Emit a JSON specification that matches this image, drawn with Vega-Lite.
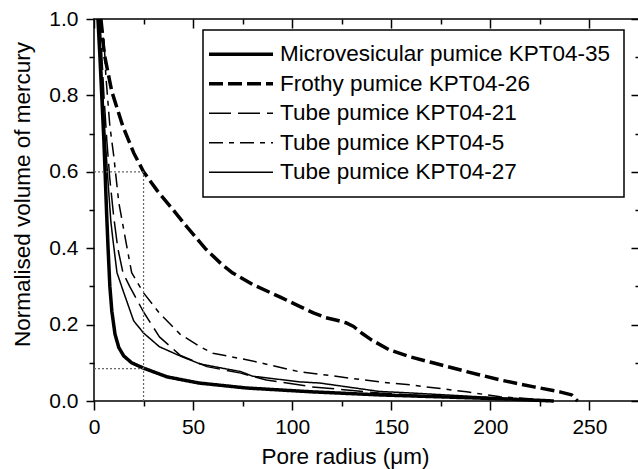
{
  "$schema": "https://vega.github.io/schema/vega-lite/v6.json",
  "width": 545,
  "height": 382,
  "autosize": {"type": "none"},
  "padding": {"left": 94, "top": 19, "right": 0, "bottom": 68},
  "background": "white",
  "config": {
    "view": {"stroke": "black", "strokeWidth": 1.5},
    "font": "Liberation Sans",
    "axis": {
      "labelFont": "Liberation Sans", "labelFontSize": 21, "labelColor": "black",
      "titleFont": "Liberation Sans", "titleFontSize": 22.5, "titleFontWeight": "normal", "titleColor": "black",
      "domain": false, "grid": false, "tickColor": "black", "tickWidth": 1.5,
      "labelFlush": false, "labelOverlap": false
    },
    "legend": {
      "orient": "none", "legendX": 109, "legendY": 11,
      "padding": 13, "rowPadding": 6.5,
      "strokeColor": "black", "fillColor": "white", "strokeWidth": 1.5,
      "symbolType": "M -4.5625 0 H 11.4375", "symbolSize": 64,
      "symbolStrokeColor": "black", "symbolFillColor": "transparent",
      "labelFont": "Liberation Sans", "labelFontSize": 22.5, "labelColor": "black",
      "labelOffset": 41.5, "labelLimit": 0
    }
  },
  "datasets": {
    "curves": [
      {"s": "Microvesicular pumice KPT04-35", "x": 2, "y": 1.0},
      {"s": "Microvesicular pumice KPT04-35", "x": 3, "y": 0.9},
      {"s": "Microvesicular pumice KPT04-35", "x": 4, "y": 0.79},
      {"s": "Microvesicular pumice KPT04-35", "x": 5, "y": 0.68},
      {"s": "Microvesicular pumice KPT04-35", "x": 5.6, "y": 0.6},
      {"s": "Microvesicular pumice KPT04-35", "x": 6.3, "y": 0.5},
      {"s": "Microvesicular pumice KPT04-35", "x": 7.1, "y": 0.4},
      {"s": "Microvesicular pumice KPT04-35", "x": 8, "y": 0.3},
      {"s": "Microvesicular pumice KPT04-35", "x": 9, "y": 0.235},
      {"s": "Microvesicular pumice KPT04-35", "x": 10.6, "y": 0.175},
      {"s": "Microvesicular pumice KPT04-35", "x": 12.5, "y": 0.14},
      {"s": "Microvesicular pumice KPT04-35", "x": 15, "y": 0.118},
      {"s": "Microvesicular pumice KPT04-35", "x": 19, "y": 0.1},
      {"s": "Microvesicular pumice KPT04-35", "x": 25, "y": 0.086},
      {"s": "Microvesicular pumice KPT04-35", "x": 37, "y": 0.063},
      {"s": "Microvesicular pumice KPT04-35", "x": 53, "y": 0.047},
      {"s": "Microvesicular pumice KPT04-35", "x": 77, "y": 0.034},
      {"s": "Microvesicular pumice KPT04-35", "x": 110, "y": 0.024},
      {"s": "Microvesicular pumice KPT04-35", "x": 144, "y": 0.016},
      {"s": "Microvesicular pumice KPT04-35", "x": 180, "y": 0.01},
      {"s": "Microvesicular pumice KPT04-35", "x": 210, "y": 0.005},
      {"s": "Microvesicular pumice KPT04-35", "x": 232, "y": 0},

      {"s": "Frothy pumice KPT04-26", "x": 3, "y": 1.0},
      {"s": "Frothy pumice KPT04-26", "x": 5.5, "y": 0.9},
      {"s": "Frothy pumice KPT04-26", "x": 9, "y": 0.81},
      {"s": "Frothy pumice KPT04-26", "x": 14.5, "y": 0.72},
      {"s": "Frothy pumice KPT04-26", "x": 20, "y": 0.65},
      {"s": "Frothy pumice KPT04-26", "x": 25, "y": 0.6},
      {"s": "Frothy pumice KPT04-26", "x": 32, "y": 0.55},
      {"s": "Frothy pumice KPT04-26", "x": 40, "y": 0.5},
      {"s": "Frothy pumice KPT04-26", "x": 47, "y": 0.455},
      {"s": "Frothy pumice KPT04-26", "x": 56, "y": 0.4},
      {"s": "Frothy pumice KPT04-26", "x": 64, "y": 0.36},
      {"s": "Frothy pumice KPT04-26", "x": 70, "y": 0.335},
      {"s": "Frothy pumice KPT04-26", "x": 80, "y": 0.305},
      {"s": "Frothy pumice KPT04-26", "x": 94, "y": 0.272},
      {"s": "Frothy pumice KPT04-26", "x": 104, "y": 0.247},
      {"s": "Frothy pumice KPT04-26", "x": 111, "y": 0.23},
      {"s": "Frothy pumice KPT04-26", "x": 117, "y": 0.218},
      {"s": "Frothy pumice KPT04-26", "x": 122, "y": 0.212},
      {"s": "Frothy pumice KPT04-26", "x": 127, "y": 0.205},
      {"s": "Frothy pumice KPT04-26", "x": 131, "y": 0.195},
      {"s": "Frothy pumice KPT04-26", "x": 135, "y": 0.178},
      {"s": "Frothy pumice KPT04-26", "x": 140, "y": 0.16},
      {"s": "Frothy pumice KPT04-26", "x": 149, "y": 0.134},
      {"s": "Frothy pumice KPT04-26", "x": 160, "y": 0.115},
      {"s": "Frothy pumice KPT04-26", "x": 171, "y": 0.1},
      {"s": "Frothy pumice KPT04-26", "x": 188, "y": 0.077},
      {"s": "Frothy pumice KPT04-26", "x": 205, "y": 0.055},
      {"s": "Frothy pumice KPT04-26", "x": 222, "y": 0.037},
      {"s": "Frothy pumice KPT04-26", "x": 235, "y": 0.024},
      {"s": "Frothy pumice KPT04-26", "x": 241, "y": 0.016},
      {"s": "Frothy pumice KPT04-26", "x": 244, "y": 0},

      {"s": "Tube pumice KPT04-21", "x": 3, "y": 1.0},
      {"s": "Tube pumice KPT04-21", "x": 4, "y": 0.9},
      {"s": "Tube pumice KPT04-21", "x": 5, "y": 0.8},
      {"s": "Tube pumice KPT04-21", "x": 6.5, "y": 0.68},
      {"s": "Tube pumice KPT04-21", "x": 8, "y": 0.58},
      {"s": "Tube pumice KPT04-21", "x": 10, "y": 0.48},
      {"s": "Tube pumice KPT04-21", "x": 12, "y": 0.4},
      {"s": "Tube pumice KPT04-21", "x": 14.6, "y": 0.336},
      {"s": "Tube pumice KPT04-21", "x": 18, "y": 0.3},
      {"s": "Tube pumice KPT04-21", "x": 25, "y": 0.233},
      {"s": "Tube pumice KPT04-21", "x": 33, "y": 0.168},
      {"s": "Tube pumice KPT04-21", "x": 43.4, "y": 0.12},
      {"s": "Tube pumice KPT04-21", "x": 57, "y": 0.09},
      {"s": "Tube pumice KPT04-21", "x": 74, "y": 0.073},
      {"s": "Tube pumice KPT04-21", "x": 87, "y": 0.055},
      {"s": "Tube pumice KPT04-21", "x": 110, "y": 0.037},
      {"s": "Tube pumice KPT04-21", "x": 144, "y": 0.021},
      {"s": "Tube pumice KPT04-21", "x": 180, "y": 0.01},
      {"s": "Tube pumice KPT04-21", "x": 210, "y": 0.004},
      {"s": "Tube pumice KPT04-21", "x": 228, "y": 0},

      {"s": "Tube pumice KPT04-5", "x": 4, "y": 1.0},
      {"s": "Tube pumice KPT04-5", "x": 5, "y": 0.95},
      {"s": "Tube pumice KPT04-5", "x": 6, "y": 0.85},
      {"s": "Tube pumice KPT04-5", "x": 8, "y": 0.72},
      {"s": "Tube pumice KPT04-5", "x": 10, "y": 0.64},
      {"s": "Tube pumice KPT04-5", "x": 12.5, "y": 0.52},
      {"s": "Tube pumice KPT04-5", "x": 16, "y": 0.42},
      {"s": "Tube pumice KPT04-5", "x": 19, "y": 0.336},
      {"s": "Tube pumice KPT04-5", "x": 25, "y": 0.283},
      {"s": "Tube pumice KPT04-5", "x": 33, "y": 0.23},
      {"s": "Tube pumice KPT04-5", "x": 43.4, "y": 0.175},
      {"s": "Tube pumice KPT04-5", "x": 53.5, "y": 0.142},
      {"s": "Tube pumice KPT04-5", "x": 60, "y": 0.125},
      {"s": "Tube pumice KPT04-5", "x": 77, "y": 0.108},
      {"s": "Tube pumice KPT04-5", "x": 84, "y": 0.1},
      {"s": "Tube pumice KPT04-5", "x": 104, "y": 0.076},
      {"s": "Tube pumice KPT04-5", "x": 114, "y": 0.07},
      {"s": "Tube pumice KPT04-5", "x": 144, "y": 0.05},
      {"s": "Tube pumice KPT04-5", "x": 160, "y": 0.042},
      {"s": "Tube pumice KPT04-5", "x": 188, "y": 0.024},
      {"s": "Tube pumice KPT04-5", "x": 205, "y": 0.011},
      {"s": "Tube pumice KPT04-5", "x": 222, "y": 0.005},
      {"s": "Tube pumice KPT04-5", "x": 232, "y": 0},

      {"s": "Tube pumice KPT04-27", "x": 2.5, "y": 1.0},
      {"s": "Tube pumice KPT04-27", "x": 3.5, "y": 0.9},
      {"s": "Tube pumice KPT04-27", "x": 4.5, "y": 0.8},
      {"s": "Tube pumice KPT04-27", "x": 5.5, "y": 0.7},
      {"s": "Tube pumice KPT04-27", "x": 7, "y": 0.58},
      {"s": "Tube pumice KPT04-27", "x": 8.5, "y": 0.47},
      {"s": "Tube pumice KPT04-27", "x": 9.6, "y": 0.42},
      {"s": "Tube pumice KPT04-27", "x": 11.6, "y": 0.336},
      {"s": "Tube pumice KPT04-27", "x": 14.6, "y": 0.29},
      {"s": "Tube pumice KPT04-27", "x": 20, "y": 0.21},
      {"s": "Tube pumice KPT04-27", "x": 25, "y": 0.178},
      {"s": "Tube pumice KPT04-27", "x": 33, "y": 0.142},
      {"s": "Tube pumice KPT04-27", "x": 43.4, "y": 0.118},
      {"s": "Tube pumice KPT04-27", "x": 53.5, "y": 0.097},
      {"s": "Tube pumice KPT04-27", "x": 63.6, "y": 0.087},
      {"s": "Tube pumice KPT04-27", "x": 74, "y": 0.077},
      {"s": "Tube pumice KPT04-27", "x": 80, "y": 0.065},
      {"s": "Tube pumice KPT04-27", "x": 104, "y": 0.05},
      {"s": "Tube pumice KPT04-27", "x": 114, "y": 0.047},
      {"s": "Tube pumice KPT04-27", "x": 144, "y": 0.025},
      {"s": "Tube pumice KPT04-27", "x": 160, "y": 0.021},
      {"s": "Tube pumice KPT04-27", "x": 205, "y": 0.008},
      {"s": "Tube pumice KPT04-27", "x": 225, "y": 0}
    ],
    "guides": [
      {"x": 0, "y": 0.6, "x2": 25, "y2": 0.6},
      {"x": 25, "y": 0, "x2": 25, "y2": 0.6},
      {"x": 0, "y": 0.085, "x2": 25, "y2": 0.085}
    ]
  },
  "layer": [
    {
      "data": {"name": "curves"},
      "mark": {"type": "line", "color": "black", "strokeCap": "butt", "strokeJoin": "round"},
      "encoding": {
        "x": {
          "field": "x", "type": "quantitative",
          "scale": {"domain": [0, 275], "nice": false, "zero": false},
          "axis": {
            "orient": "bottom", "title": "Pore radius (\u03bcm)",
            "values": [0, 25, 50, 75, 100, 125, 150, 175, 200, 225, 250, 275],
            "labelExpr": "datum.value % 50 === 0 ? datum.label : ''",
            "tickSize": {"condition": {"test": "datum.value % 50 === 0", "value": 9}, "value": 5},
            "labelPadding": 6, "titlePadding": 8, "titleX": 251, "titleAlign": "center"
          }
        },
        "y": {
          "field": "y", "type": "quantitative",
          "scale": {"domain": [0, 1], "nice": false},
          "axis": {
            "orient": "left", "title": "Normalised volume of mercury",
            "values": [0, 0.1, 0.2, 0.3, 0.4, 0.5, 0.6, 0.7, 0.8, 0.9, 1.0],
            "labelExpr": "round(datum.value * 10) % 2 === 0 ? format(datum.value, '.1f') : ''",
            "tickSize": {"condition": {"test": "round(datum.value * 10) % 2 === 0", "value": 8}, "value": 5},
            "labelPadding": 8, "titlePadding": 14, "titleY": 175, "titleAlign": "center"
          }
        },
        "strokeDash": {
          "field": "s", "type": "nominal", "title": null,
          "scale": {
            "domain": ["Microvesicular pumice KPT04-35", "Frothy pumice KPT04-26", "Tube pumice KPT04-21", "Tube pumice KPT04-5", "Tube pumice KPT04-27"],
            "range": [[1, 0], [14, 5], [22, 7], [14, 6, 5, 6], [1, 0]]
          }
        },
        "strokeWidth": {
          "field": "s", "type": "nominal", "title": null,
          "scale": {
            "type": "ordinal",
            "domain": ["Microvesicular pumice KPT04-35", "Frothy pumice KPT04-26", "Tube pumice KPT04-21", "Tube pumice KPT04-5", "Tube pumice KPT04-27"],
            "range": [3.5, 3.5, 1.5, 1.5, 1.5]
          }
        }
      }
    },
    {
      "data": {"name": "guides"},
      "mark": {"type": "rule", "color": "#666666", "strokeDash": [2, 2], "strokeWidth": 1.2},
      "encoding": {
        "x": {
          "field": "x", "type": "quantitative",
          "scale": {"domain": [0, 275], "nice": false, "zero": false},
          "axis": {
            "orient": "top", "title": null, "labels": false,
            "values": [0, 25, 50, 75, 100, 125, 150, 175, 200, 225, 250, 275],
            "tickSize": {"condition": {"test": "datum.value % 50 === 0", "value": -9}, "value": -5}
          }
        },
        "x2": {"field": "x2"},
        "y": {
          "field": "y", "type": "quantitative",
          "scale": {"domain": [0, 1], "nice": false},
          "axis": {
            "orient": "right", "title": null, "labels": false,
            "values": [0, 0.1, 0.2, 0.3, 0.4, 0.5, 0.6, 0.7, 0.8, 0.9, 1.0],
            "tickSize": {"condition": {"test": "round(datum.value * 10) % 2 === 0", "value": -8}, "value": -4}
          }
        },
        "y2": {"field": "y2"}
      }
    }
  ],
  "resolve": {"axis": {"x": "independent", "y": "independent"}}
}
